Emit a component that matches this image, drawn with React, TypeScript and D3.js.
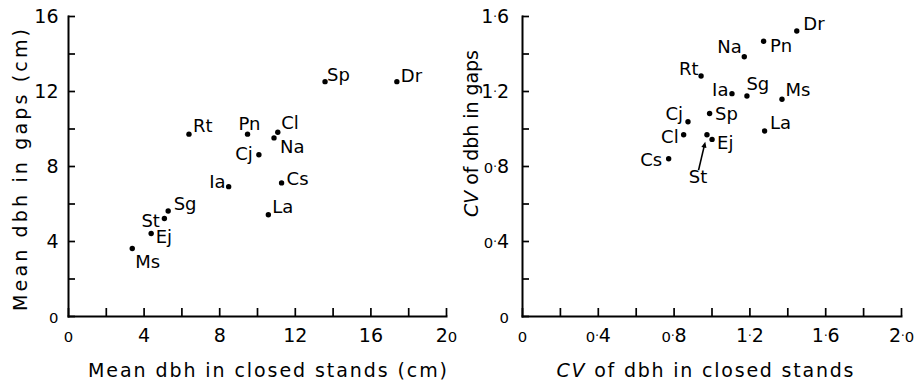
import * as d3 from "d3";
import { useRef, useEffect } from "react";

// species codes, same order in every array
const species = ["Sp", "Dr", "Rt", "Pn", "Cl", "Na", "Cj", "Ia", "Cs", "La", "Sg", "St", "Ej", "Ms"];

// left panel: mean dbh (cm)
const meanClosed = [13.6, 17.4, 6.4, 9.5, 11.1, 10.9, 10.1, 8.5, 11.3, 10.6, 5.3, 5.1, 4.4, 3.4];
const meanGaps = [12.5, 12.5, 9.7, 9.7, 9.8, 9.5, 8.6, 6.9, 7.1, 5.4, 5.6, 5.2, 4.4, 3.6];

// right panel: CV of dbh
const cvClosed = [0.99, 1.45, 0.945, 1.275, 0.853, 1.173, 0.876, 1.108, 0.774, 1.28, 1.187, 0.976, 1.003, 1.372];
const cvGaps = [1.08, 1.52, 1.28, 1.465, 0.967, 1.383, 1.036, 1.186, 0.839, 0.987, 1.173, 0.967, 0.942, 1.156];

// tick labels (majors only, minors sit half way between)
const meanXTicks = ["0", "4", "8", "12", "16", "20"];
const meanYTicks = ["0", "4", "8", "12", "16"];
const cvXTicks = ["0", "0·4", "0·8", "1·2", "1·6", "2·0"];
const cvYTicks = ["0", "0·4", "0·8", "1·2", "1·6"];

const W = 922, H = 380;
const font = "'DejaVu Sans', Verdana, sans-serif";

// where each name sits next to its dot: anchor, dx, dy
const leftLabelAt = {
    Sp: ["start", 2, -1], Dr: ["start", 4, 0], Rt: ["start", 4, -2], Pn: ["start", -9, -4],
    Cl: ["start", 3.5, -3], Na: ["start", 6, 15], Cj: ["end", -6, 5], Ia: ["end", -3, 1],
    Cs: ["start", 5, 2], La: ["start", 4, -1.5], Sg: ["start", 5.5, -1], St: ["end", -4.5, 8],
    Ej: ["start", 4.5, 9], Ms: ["start", 3, 19],
};
const rightLabelAt = {
    Sp: ["start", 5.5, 6.5], Dr: ["start", 6.5, -1.5], Rt: ["end", -2.5, -1.5], Pn: ["start", 6.5, 11],
    Cl: ["end", -5, 8.5], Na: ["end", -2.5, -4], Cj: ["end", -5, -1.5], Ia: ["end", -3.5, 2.5],
    Cs: ["end", -6.5, 7], La: ["start", 5.5, -1.5], Sg: ["start", -0.5, -6], St: ["middle", -9, 48],
    Ej: ["start", 5, 10], Ms: ["start", 3.5, -3],
};

const panels = [
    {
        xs: meanClosed, ys: meanGaps, xMax: 20, yMax: 16,
        xTicks: meanXTicks, yTicks: meanYTicks,
        x0: 68, x1: 446, yPad: 9.5, labels: leftLabelAt,
        xTitle: [["Mean dbh in closed stands (cm)", false]], xTitleAt: [267.5, 377, 359],
        yTitle: [["Mean dbh in gaps (cm)", false]], yTitleAt: [26.5, 170, 282],
    },
    {
        xs: cvClosed, ys: cvGaps, xMax: 2, yMax: 1.6,
        xTicks: cvXTicks, yTicks: cvYTicks,
        x0: 522, x1: 901, yPad: 13, labels: rightLabelAt,
        xTitle: [["CV", true], [" of dbh in closed stands", false]], xTitleAt: [705, 377, 297],
        yTitle: [["CV", true], [" of dbh in gaps", false]], yTitleAt: [478, 133.5, 167],
        arrowFor: "St",
    },
];

const axisY = 316, topY = 16;

// the lettering uses a small round zero and a small raised decimal point
const letterTicks = (g) => {
    g.selectAll(".tick text").each(function () {
        const t = d3.select(this);
        const s = t.text();
        t.text(null);
        let lift = 0;
        s.split("").forEach(ch => {
            const sp = t.append("tspan").text(ch);
            if (ch === "0") sp.attr("font-size", "0.78em");
            if (ch === "·") {
                sp.attr("font-size", "0.6em").attr("dy", -2);
                lift = 2;
            } else if (lift) {
                sp.attr("dy", lift);
                lift = 0;
            }
        });
    });
};

const ChartDraw = () => {
    const chartRef = useRef(null);

    useEffect(() => {
        const svg = d3.select(chartRef.current);
        svg.selectAll("*").remove();

        panels.forEach(p => {
            const x = d3.scaleLinear().domain([0, p.xMax]).range([p.x0, p.x1]);
            const y = d3.scaleLinear().domain([0, p.yMax]).range([axisY, topY]);

            const xVals = d3.range(2 * (p.xTicks.length - 1) + 1).map(i => i * p.xMax / (2 * (p.xTicks.length - 1)));
            const yVals = d3.range(2 * (p.yTicks.length - 1) + 1).map(i => i * p.yMax / (2 * (p.yTicks.length - 1)));

            const xAxis = d3.axisBottom(x)
                .tickValues(xVals)
                .tickSize(-8)
                .tickSizeOuter(0)
                .tickFormat((d, i) => (i % 2 === 0 ? p.xTicks[i / 2] : ""));
            const gx = svg.append("g")
                .attr("transform", `translate(0, ${axisY})`)
                .call(xAxis);
            gx.selectAll(".tick text").attr("y", 26).attr("dy", null);
            gx.call(letterTicks);

            const yAxis = d3.axisLeft(y)
                .tickValues(yVals)
                .tickSize(-7)
                .tickSizeOuter(0)
                .tickFormat((d, i) => (i % 2 === 0 ? p.yTicks[i / 2] : ""));
            const gy = svg.append("g")
                .attr("transform", `translate(${p.x0}, 0)`)
                .call(yAxis);
            gy.selectAll(".tick text").attr("x", -p.yPad).attr("dy", "0.36em");
            gy.call(letterTicks);

            [gx, gy].forEach(g => {
                g.attr("font-family", font).attr("font-size", 19);
                g.select(".domain").attr("stroke", "#000").attr("stroke-width", 2).attr("stroke-linecap", "square");
                g.selectAll(".tick line").attr("stroke", "#000").attr("stroke-width", 1.7);
                g.selectAll(".tick text").attr("fill", "#000");
            });

            svg.append("g")
               .selectAll("circle")
               .data(species)
               .enter()
               .append("circle")
               .attr("cx", (d, i) => x(p.xs[i]))
               .attr("cy", (d, i) => y(p.ys[i]))
               .attr("r", 2.7)
               .attr("fill", "#000");

            svg.append("g")
               .attr("font-family", font)
               .attr("font-size", 18)
               .selectAll("text")
               .data(species)
               .enter()
               .append("text")
               .attr("x", (d, i) => x(p.xs[i]) + p.labels[d][1])
               .attr("y", (d, i) => y(p.ys[i]) + p.labels[d][2])
               .attr("text-anchor", d => p.labels[d][0])
               .text(d => d);

            if (p.arrowFor) {
                const k = species.indexOf(p.arrowFor);
                const cx = x(p.xs[k]), cy = y(p.ys[k]);
                const tip = [cx - 1.7, cy + 7];
                const tail = [cx - 8.4, cy + 35.5];
                const len = Math.hypot(tip[0] - tail[0], tip[1] - tail[1]);
                const ux = (tip[0] - tail[0]) / len, uy = (tip[1] - tail[1]) / len;
                svg.append("line")
                   .attr("x1", tail[0]).attr("y1", tail[1])
                   .attr("x2", tip[0] - ux * 3).attr("y2", tip[1] - uy * 3)
                   .attr("stroke", "#000").attr("stroke-width", 1.6);
                const hl = 6, hw = 2.6;
                svg.append("path")
                   .attr("d", `M${tip[0]},${tip[1]}L${tip[0] - ux * hl - uy * hw},${tip[1] - uy * hl + ux * hw}L${tip[0] - ux * hl + uy * hw},${tip[1] - uy * hl - ux * hw}Z`)
                   .attr("fill", "#000");
            }

            const title = (parts, at, rotate) => {
                const t = svg.append("text")
                    .attr("font-family", font)
                    .attr("font-size", 19)
                    .attr("text-anchor", "middle")
                    .attr("textLength", at[2])
                    .attr("lengthAdjust", "spacing")
                    .attr("transform", `translate(${at[0]}, ${at[1]})${rotate ? " rotate(-90)" : ""}`);
                parts.forEach(([s, italic]) => t.append("tspan").attr("font-style", italic ? "italic" : null).text(s));
            };
            title(p.xTitle, p.xTitleAt, false);
            title(p.yTitle, p.yTitleAt, true);
        });
    }, []);

    return (
        <svg ref={chartRef} width={W} height={H}
             style={{ position: "absolute", left: 0, top: 0, background: "#fff" }}></svg>
    );
};

export default function App() {
    return <ChartDraw />;
}
